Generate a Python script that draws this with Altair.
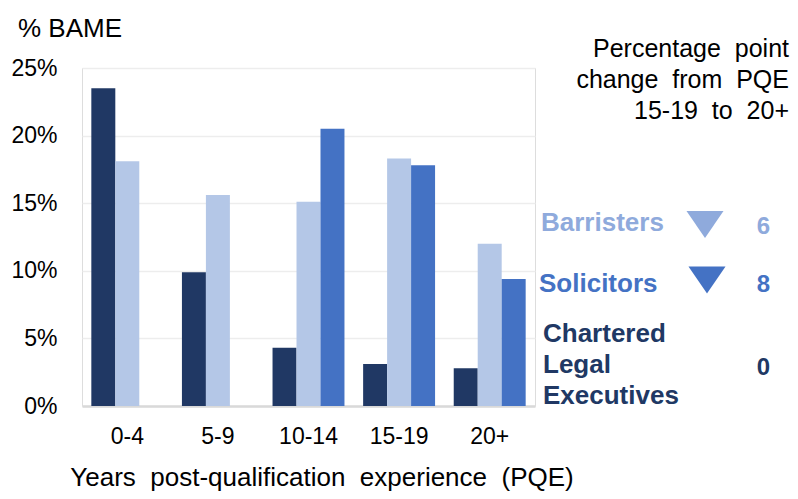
import altair as alt
import pandas as pd

# ---------------- data ----------------
pqe_bands = ["0-4", "5-9", "10-14", "15-19", "20+"]
professions = ["Chartered Legal Executives", "Barristers", "Solicitors"]
cle_pct = [23.5, 9.9, 4.3, 3.1, 2.8]
barrister_pct = [18.1, 15.6, 15.1, 18.3, 12.0]
solicitor_pct = [None, None, 20.5, 17.8, 9.4]
y_ticks = [0, 5, 10, 15, 20, 25]
bar_colours = ["#203864", "#B4C7E7", "#4472C4"]
text_colours = ["#203864", "#8FAADC", "#4472C4"]

series = dict(zip(professions, [cle_pct, barrister_pct, solicitor_pct]))
rows = []
for prof, vals in series.items():
    for band, v in zip(pqe_bands, vals):
        if v is not None:
            rows.append({"pqe": band, "profession": prof, "pct": v})
df = pd.DataFrame(rows)

# percentage-point change from PQE 15-19 to 20+
changes = [round(vals[3] - vals[4]) for vals in series.values()]

FONT = "Liberation Sans"
W, H = 453, 338

bars = alt.Chart(df).mark_bar().encode(
    x=alt.X("pqe:N", sort=pqe_bands,
            scale=alt.Scale(domain=pqe_bands, paddingInner=0.206, paddingOuter=0.103),
            axis=alt.Axis(title=None, labelAngle=0, labelFontSize=23, labelFont=FONT,
                          labelColor="#000000", ticks=False, domainColor="#D9D9D9",
                          domainWidth=2.5, labelPadding=19, grid=False)),
    xOffset=alt.XOffset("profession:N", sort=professions,
                        scale=alt.Scale(domain=professions, paddingInner=0, paddingOuter=0)),
    y=alt.Y("pct:Q", scale=alt.Scale(domain=[0, 25], nice=False),
            axis=alt.Axis(title=None, values=y_ticks, labelExpr="datum.value + '%'",
                          ticks=False, domain=False, gridColor="#EDEDED", gridWidth=1.5,
                          labelFontSize=23, labelFont=FONT, labelColor="#000000",
                          labelPadding=25)),
    color=alt.Color("profession:N", scale=alt.Scale(domain=professions, range=bar_colours),
                    legend=None),
)

one = pd.DataFrame({"k": [0]})

y_title = alt.Chart(one).mark_text(
    text="% BAME", font=FONT, fontSize=26, align="left", baseline="alphabetic", color="#000000"
).encode(x=alt.value(-64), y=alt.value(-31))

x_title = alt.Chart(one).mark_text(
    text="Years\u00a0 post-qualification\u00a0 experience\u00a0 (PQE)", font=FONT, fontSize=26,
    align="center", baseline="alphabetic", color="#000000"
).encode(x=alt.value(240), y=alt.value(418))

header = alt.Chart(one).mark_text(
    text=["Percentage\u00a0 point", "change\u00a0 from\u00a0 PQE", "15-19\u00a0 to\u00a0 20+"],
    font=FONT, fontSize=25, align="right", baseline="alphabetic", lineHeight=31,
    color="#000000"
).encode(x=alt.value(707), y=alt.value(-11))

legend_df = pd.DataFrame({"profession": professions, "change": changes, "colour": text_colours})

# legend item placement (label x, label baseline, triangle centre y, number baseline)
placements = {
    "Barristers": (459, 163, 156.5, 166),
    "Solicitors": (457, 224, 212, 224),
    "Chartered Legal Executives": (461, 274, None, 307),
}
tri_x = {"Barristers": 623, "Solicitors": 625}

layers = [bars, y_title, x_title, header]
for i, prof in enumerate(professions):
    sub = legend_df[legend_df["profession"] == prof]
    lx, ly, ty, ny = placements[prof]
    col = text_colours[i]
    label_kw = dict(font=FONT, fontSize=26, fontWeight="bold", align="left",
                    baseline="alphabetic", color=col)
    if prof == "Chartered Legal Executives":
        label_kw.update(lineBreak=" ", lineHeight=31)
    layers.append(alt.Chart(sub).mark_text(**label_kw).encode(
        x=alt.value(lx), y=alt.value(ly), text="profession:N"))
    layers.append(alt.Chart(sub).mark_text(
        font=FONT, fontSize=24, fontWeight="bold", align="center", baseline="alphabetic",
        color=col).encode(x=alt.value(681.5), y=alt.value(ny), text=alt.Text("change:Q", format="d")))
    if changes[i] > 0:
        layers.append(alt.Chart(sub).mark_point(
            shape="M-1,-0.73L0,0.73L1,-0.73Z", size=1369, filled=True, opacity=1,
            color=col, strokeWidth=0).encode(x=alt.value(tri_x[prof]), y=alt.value(ty)))

chart = alt.layer(*layers).properties(
    width=W, height=H,
    autosize=alt.AutoSizeParams(type="none"),
    padding={"left": 74, "top": 60, "right": 255, "bottom": 85},
).configure_view(stroke="transparent", strokeWidth=0).configure(background="white")

chart.save("out.html", embed_options={"renderer": "svg", "actions": False})
